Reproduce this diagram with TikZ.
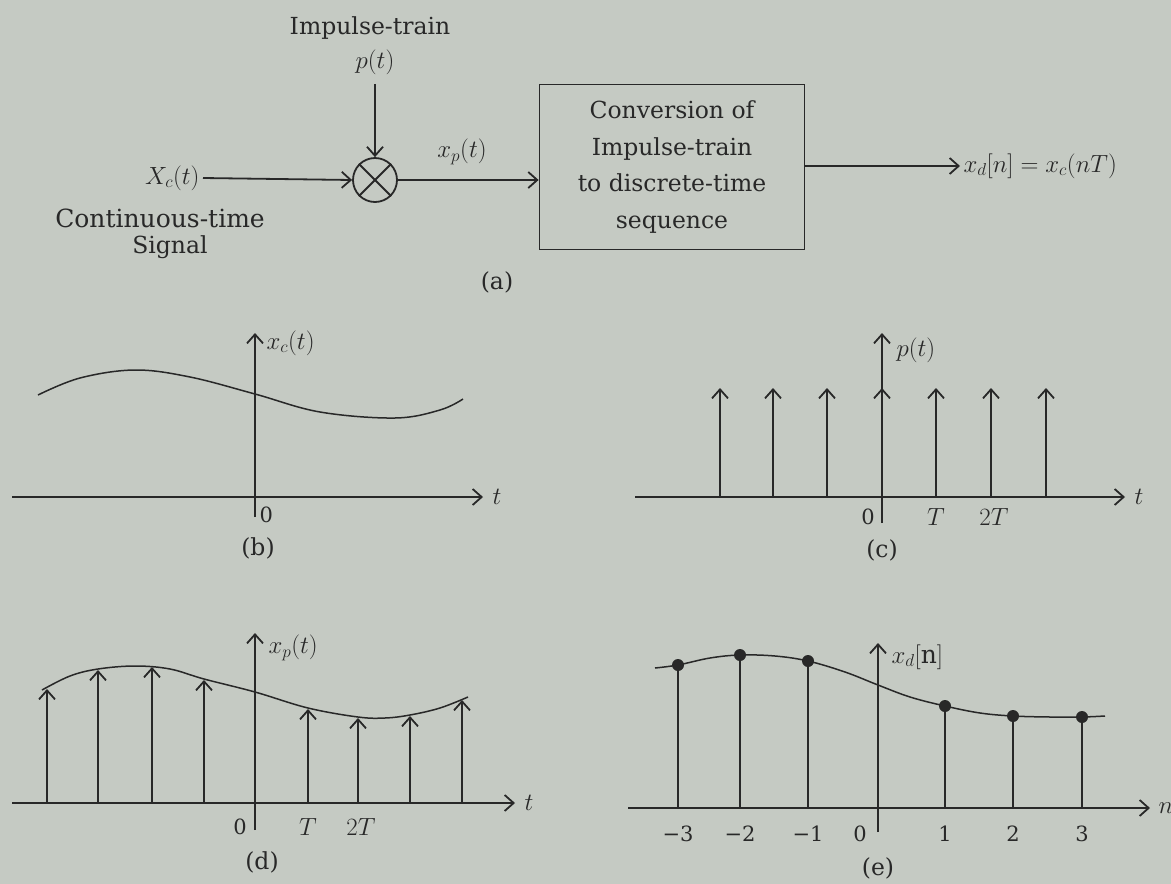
\documentclass[tikz,border=0pt]{standalone}
\usepackage{fontspec}
\setmainfont{DejaVu Serif}
\usetikzlibrary{arrows.meta}
\definecolor{paper}{RGB}{197,202,195}
\definecolor{ink}{RGB}{40,40,40}
\begin{document}
\begin{tikzpicture}[x=1pt,y=-1pt,
  every node/.style={font=\fontsize{23.5}{27}\selectfont, text=ink},
  mth/.style={font=\fontsize{25}{29}\selectfont},
  small/.style={font=\fontsize{21}{25}\selectfont},
  ln/.style={draw=ink, line width=1.8pt},
  crv/.style={draw=ink, line width=1.5pt},
  arr/.style={ln, -{Straight Barb[length=9pt,width=16pt,line width=1.8pt]}}]
\fill[paper] (0,0) rectangle (1171,884);
\useasboundingbox (0,0) rectangle (1171,884);

% ---------- (a) block diagram ----------
\node (imp) at (370,28) {Impulse-train};
\node[mth] (pt) at (375,62) {$p(t)$};
\node[circle, ln, minimum size=44pt, inner sep=0pt] (mult) at (375,180) {};
\draw[ln] (mult.north west) -- (mult.south east);
\draw[ln] (mult.north east) -- (mult.south west);
\draw[arr, shorten <=6pt] (pt.south) -- (mult.north);
\node[mth, anchor=east] (xc) at (203,178) {$X_c(t)$};
\draw[arr] (xc.east) -- (mult.west);
\node[font=\fontsize{25}{29}\selectfont] (cts) at (160,218) {Continuous-time};
\node (sig) at (170,247) {Signal};
\node[ln, minimum width=265pt, minimum height=165pt, align=center,
      font=\fontsize{23.5}{36.5}\selectfont] (conv) at (672,167)
      {Conversion of\\Impulse-train\\to discrete-time\\sequence};
\draw[arr] (mult.east) -- (conv.west |- mult.east);
\node[mth] (xpl) at (462,152) {$x_p(t)$};
\node[mth, anchor=west] (xd) at (960,166) {$x_d[n]=x_c(nT)$};
\draw[arr] (conv.east |- xd.west) -- (xd.west);
\node (la) at (497,282) {(a)};

% ---------- (b) ----------
\draw[arr] (12,497) -- (483,497);
\node[mth] (tb) at (497,497) {$t$};
\draw[arr] (255,517) -- (255,333);
\node[mth, anchor=west] (xcl) at (263,343) {$x_c(t)$};
\node[small, anchor=west] (zb) at (256,515) {0};
\draw[crv] plot[smooth, tension=0.6] coordinates
  {(38,395) (80,378) (135,370) (190,377) (255,394) (320,412) (395,418) (440,410) (463,399)};
\node (lb) at (258,548) {(b)};

% ---------- (c) ----------
\draw[arr] (635,497) -- (1125,497);
\node[mth] (tc) at (1139,497) {$t$};
\draw[arr] (882,523) -- (882,333);
\node[mth, anchor=west] (ptl) at (893,350) {$p(t)$};
\foreach \x in {720,773,827,882,936,991,1046}
  \draw[arr] (\x,497) -- (\x,388);
\node[small] (zc) at (868,517) {0};
\node[mth] (Tc) at (936,517) {$T$};
\node[mth] (TTc) at (994,517) {$2T$};
\node (lc) at (882,550) {(c)};

% ---------- (d) ----------
\draw[arr] (12,803) -- (515,803);
\node[mth] (td) at (529,803) {$t$};
\draw[arr] (255,830) -- (255,633);
\node[mth, anchor=west] (xpd) at (265,648) {$x_p(t)$};
\draw[crv] plot[smooth, tension=0.6] coordinates
  {(42,690) (70,676) (98,669) (135,666) (170,669) (204,679) (255,692) (308,708) (358,717) (385,718) (410,715) (440,708) (468,697)};
\foreach \x/\y in {47/689,98/670,152/667,204/680,308/709,358/718,410/716,462/700}
  \draw[arr] (\x,803) -- (\x,\y);
\node[small] (zd) at (240,827) {0};
\node[mth] (Td) at (308,827) {$T$};
\node[mth] (TTd) at (361,827) {$2T$};
\node (ld) at (262,862) {(d)};

% ---------- (e) ----------
\draw[arr] (628,808) -- (1150,808);
\node[mth] (ne) at (1166,808) {$n$};
\draw[arr] (878,832) -- (878,643);
\node[mth, anchor=west] (xde) at (888,657) {$x_d[\mathrm{n}]$};
\draw[crv] plot[smooth, tension=0.6] coordinates
  {(655,668) (678,665) (710,658) (740,655) (775,656) (808,661) (845,672) (878,685) (910,697) (945,706) (980,713) (1013,716) (1050,717) (1082,717) (1105,716)};
\foreach \x/\y in {678/665,740/655,808/661,945/706,1013/716,1082/717}{
  \draw[ln] (\x,808) -- (\x,\y);
  \fill[ink] (\x,\y) circle (6pt);
}
\node[small] (m3) at (678,834) {−3};
\node[small] (m2) at (740,834) {−2};
\node[small] (m1) at (808,834) {−1};
\node[small] (z0) at (860,834) {0};
\node[small] (p1) at (945,834) {1};
\node[small] (p2) at (1013,834) {2};
\node[small] (p3) at (1082,834) {3};
\node (le) at (878,868) {(e)};
\end{tikzpicture}
\end{document}
